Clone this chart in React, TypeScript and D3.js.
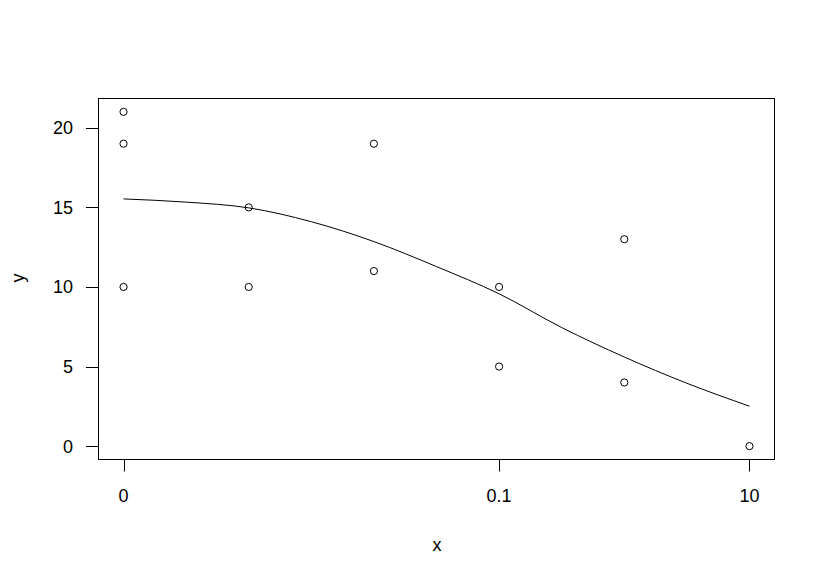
import React from "react";
import * as d3 from "d3";

const xValues = [0.0001, 0.0001, 0.0001, 0.001, 0.001, 0.01, 0.01, 0.1, 0.1, 1, 1, 10];
const yValues = [21, 19, 10, 15, 10, 19, 11, 10, 5, 13, 4, 0];

const curveLogX = [-4, -3.5, -3, -2.5, -2, -1.5, -1, -0.5, 0, 0.5, 1];
const curveY = [15.53, 15.33, 14.97, 14.1, 12.85, 11.28, 9.57, 7.45, 5.6, 3.95, 2.51];

const xTickValues = [0.0001, 0.1, 10];
const xTickLabels = ["0", "0.1", "10"];
const yTickValues = [0, 5, 10, 15, 20];

const W = 826;
const H = 582;
const left = 98.5, right = 774.5, top = 98.5, bottom = 459.5;

export default function App() {
  const xs = d3.scaleLog().domain([Math.pow(10, -4.2), Math.pow(10, 1.2)]).range([left, right]);
  const ys = d3.scaleLinear().domain([-0.84, 21.84]).range([bottom, top]);
  const line = d3
    .line<number>()
    .x((_, i) => xs(Math.pow(10, curveLogX[i])))
    .y((d) => ys(d))
    .curve(d3.curveMonotoneX);
  const font = "Liberation Sans, Arial, sans-serif";
  return (
    <svg width={W} height={H} style={{ position: "absolute", left: 0, top: 0, background: "#fff" }}>
      <rect x={0} y={0} width={W} height={H} fill="#fff" />
      <rect x={left} y={top} width={right - left} height={bottom - top} fill="none" stroke="#000" strokeWidth={1} />
      {yTickValues.map((v) => (
        <g key={"y" + v}>
          <line x1={86} x2={left} y1={Math.round(ys(v)) + 0.5} y2={Math.round(ys(v)) + 0.5} stroke="#000" />
          <text x={73} y={ys(v)} dy="0.36em" textAnchor="end" fontFamily={font} fontSize={18}>
            {v}
          </text>
        </g>
      ))}
      {xTickValues.map((v, i) => (
        <g key={"x" + v}>
          <line x1={Math.round(xs(v)) + 0.5} x2={Math.round(xs(v)) + 0.5} y1={bottom} y2={471.5} stroke="#000" />
          <text x={xs(v)} y={502} textAnchor="middle" fontFamily={font} fontSize={18}>
            {xTickLabels[i]}
          </text>
        </g>
      ))}
      <text x={437} y={551} textAnchor="middle" fontFamily={font} fontSize={18}>
        x
      </text>
      <text transform="translate(24,278) rotate(-90)" textAnchor="middle" fontFamily={font} fontSize={18}>
        y
      </text>
      <path d={line(curveY) || ""} fill="none" stroke="#000" strokeWidth={1} />
      {xValues.map((x, i) => (
        <circle key={"p" + i} cx={xs(x)} cy={ys(yValues[i])} r={3.6} fill="none" stroke="#000" strokeWidth={1} />
      ))}
    </svg>
  );
}
